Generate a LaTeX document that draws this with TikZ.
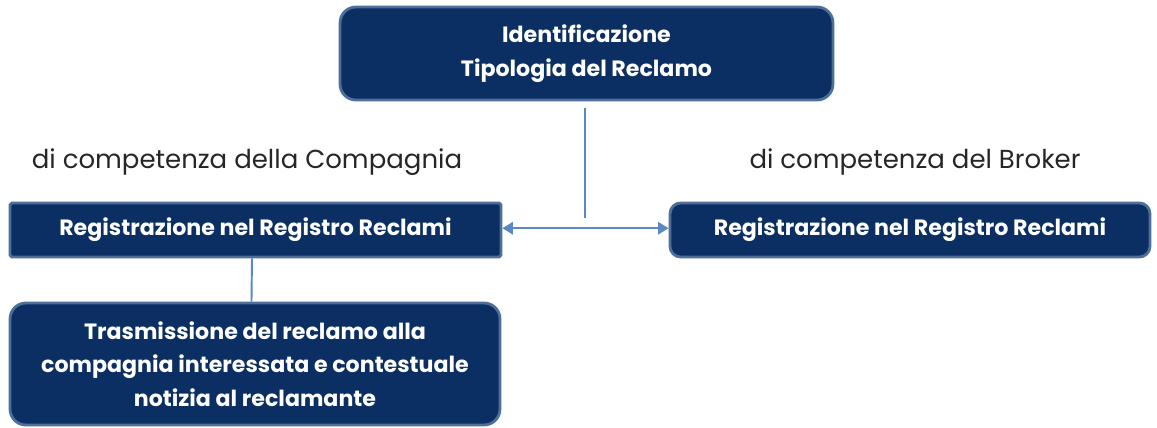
\documentclass[tikz,border=0pt]{standalone}
\usepackage{fontspec}
\setmainfont{Poppins}
\usetikzlibrary{arrows.meta}
\definecolor{navy}{HTML}{0B2F62}
\definecolor{rim}{HTML}{4E6F99}
\definecolor{wire}{HTML}{5B87C2}
\tikzstyle{box}=[draw=rim, fill=navy, line width=1.6pt, text=white, align=center, inner sep=0pt, font=\bfseries\fontsize{12.6}{19}\selectfont]
\tikzstyle{rbox}=[box, rounded corners=9pt]
\tikzstyle{wire}=[draw=wire, line width=1.1pt]
\tikzstyle{caption}=[text=black!85, font=\fontsize{14.8}{16}\selectfont]

\begin{document}
\begin{tikzpicture}[x=0.02cm, y=-0.02cm]
        \useasboundingbox (0,0) rectangle (1157,428);
        \node[rbox, minimum width=9.86cm, minimum height=1.86cm] (Tipo) at (586.5, 53.5) {Identificazione\\Tipologia del Reclamo};
        \node[box, rounded corners=1pt, minimum width=9.82cm, minimum height=1.08cm] (RegC) at (255.5, 230) {Registrazione nel Registro Reclami};
        \node[rbox, rounded corners=6pt, minimum width=9.6cm, minimum height=1.08cm] (RegB) at (910, 230) {Registrazione nel Registro Reclami};
        \node[rbox, minimum width=9.8cm, minimum height=2.44cm] (Tras) at (255, 364) {Trasmissione del reclamo alla\\compagnia interessata e contestuale\\notizia al reclamante};
        \node[caption] (CapC) at (247, 162) {di competenza della Compagnia};
        \node[caption] (CapB) at (915, 162) {di competenza del Broker};
        \coordinate (Split) at (585, 218);
        \draw[wire] ([yshift=-4pt]Tipo.south -| Split) -- (Split);
        \draw[wire, {Triangle[length=6pt, width=7pt]}-{Triangle[length=6pt, width=7pt]}] ([yshift=1pt]RegC.east) -- ([yshift=1pt]RegB.west);
        \draw[wire] ([xshift=-2pt]RegC.south) -- ([xshift=-2pt]Tras.north);
    \end{tikzpicture}
\end{document}
